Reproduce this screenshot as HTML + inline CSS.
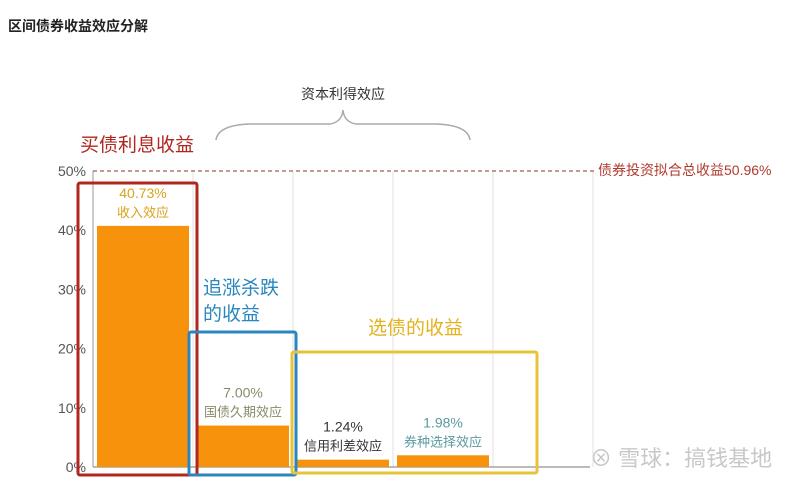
<!DOCTYPE html>
<html><head><meta charset="utf-8"><style>
body{margin:0;background:#fff;font-family:"Liberation Sans","Noto Sans CJK SC",sans-serif;}
svg text{font-family:"Liberation Sans","Noto Sans CJK SC",sans-serif;}
</style></head><body>
<svg width="800" height="483" viewBox="0 0 800 483">
<text x="8" y="31" font-size="14" font-weight="bold" fill="#222">区间债券收益效应分解</text>
<g id="grid"></g>
<g id="yticks"></g>
<g id="bars"></g>
<line x1="93" y1="171" x2="595" y2="171" stroke="#8b3a2a" stroke-dasharray="4,3" stroke-width="1"/>
<text x="598" y="175" font-size="14" fill="#b03a2e">债券投资拟合总收益50.96%</text>
<path d="M216 140 Q218 125 250 124 L330 124 Q342 122 343 110 Q344 122 356 124 L436 124 Q468 125 470 140" fill="none" stroke="#aaa" stroke-width="1.5"/>
<text x="343" y="99" font-size="14" fill="#333" text-anchor="middle">资本利得效应</text>
<text x="80" y="151" font-size="19" fill="#b0271f">买债利息收益</text>
<text x="203" y="294" font-size="19" fill="#2a86bf">追涨杀跌</text>
<text x="203" y="320" font-size="19" fill="#2a86bf">的收益</text>
<text x="368" y="334" font-size="19" fill="#e3b21c">选债的收益</text>
<rect x="78" y="183" width="119" height="292" fill="none" stroke="#b0271f" stroke-width="3" rx="2"/>
<rect x="189" y="332" width="107" height="143" fill="none" stroke="#2a86bf" stroke-width="3" rx="2"/>
<rect x="292" y="352" width="245" height="121" fill="none" stroke="#e8c33a" stroke-width="3" rx="2"/>
<text x="590" y="466" font-size="22" fill="#c8c8c8">⊗ 雪球：搞钱基地</text>
</svg>
<script>
const categories=["收入效应","国债久期效应","信用利差效应","券种选择效应"];
const values=[40.73,7.00,1.24,1.98];
const labelColors=["#d9a21c","#8a8a6a","#333","#5a9aa0"];
const yTicks=[0,10,20,30,40,50];
const NS="http://www.w3.org/2000/svg";
const x0=93,bw=100,yb=467,yt=171,ymax=50;
const y=v=>yb-(v/ymax)*(yb-yt);
const xs=i=>x0+i*bw;
function mk(t,a,p){const e=document.createElementNS(NS,t);for(const k in a)e.setAttribute(k,a[k]);p.appendChild(e);return e;}
const grid=document.getElementById('grid'),yg=document.getElementById('yticks'),bars=document.getElementById('bars');
for(let i=1;i<=5;i++){const l=mk('line',{x1:xs(i),y1:yt,x2:xs(i),y2:yb,stroke:'#e2e2e2'},grid);

}
const ax=mk('line',{x1:x0,y1:yb,x2:590,y2:yb,stroke:'#777'},grid);


const ay=mk('line',{x1:x0,y1:yt,x2:x0,y2:yb,stroke:'#999'},grid);


yTicks.forEach(t=>{const tx=mk('text',{x:86,y:y(t)+5,'font-size':14,fill:'#555','text-anchor':'end'},yg);tx.textContent=t+'%';

});
values.forEach((v,i)=>{
const r=mk('rect',{x:xs(i)+4,y:y(v),width:92,height:yb-y(v),fill:'#f7920c'},bars);


const cx=xs(i)+50,top=y(v);
const t1=mk('text',{x:cx,y:top-28,'font-size':14,fill:labelColors[i],'text-anchor':'middle'},bars);t1.textContent=v.toFixed(2)+'%';


const t2=mk('text',{x:cx,y:top-9,'font-size':13,fill:labelColors[i],'text-anchor':'middle'},bars);t2.textContent=categories[i];


});
</script>
</body></html>
